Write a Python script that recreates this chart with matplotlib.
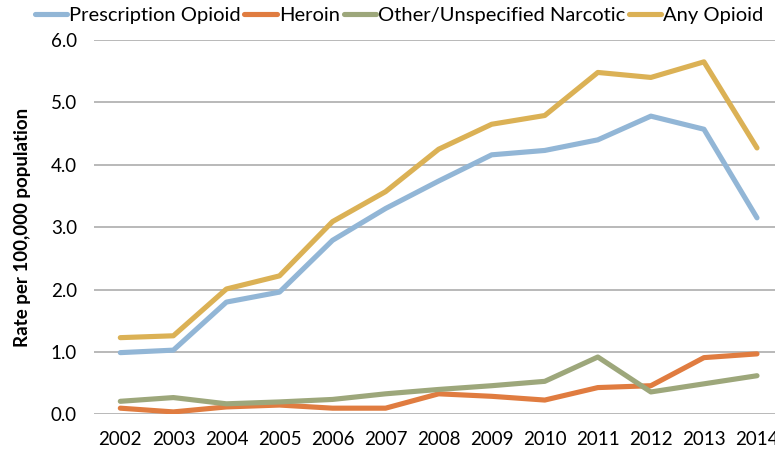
import matplotlib.pyplot as plt
from matplotlib.ticker import FormatStrFormatter

years = [str(y) for y in range(2002, 2015)]

prescription = [0.99, 1.03, 1.80, 1.96, 2.79, 3.30, 3.74, 4.16, 4.23, 4.40, 4.78, 4.57, 3.15]
heroin = [0.10, 0.04, 0.12, 0.15, 0.10, 0.10, 0.33, 0.29, 0.23, 0.43, 0.46, 0.91, 0.97]
other = [0.21, 0.27, 0.17, 0.20, 0.24, 0.33, 0.40, 0.46, 0.53, 0.92, 0.36, 0.49, 0.62]
any_opioid = [1.23, 1.26, 2.01, 2.22, 3.09, 3.57, 4.25, 4.65, 4.79, 5.48, 5.40, 5.65, 4.27]

series = [
    ("Prescription Opioid", prescription, '#92B6D6'),
    ("Heroin", heroin, '#E07C40'),
    ("Other/Unspecified Narcotic", other, '#9DA77B'),
    ("Any Opioid", any_opioid, '#DBB155'),
]

plt.rcParams['font.family'] = ['Lato', 'DejaVu Sans']

fig = plt.figure(figsize=(7.75, 4.54), dpi=100)
ax = fig.add_axes([0.121, 0.0872, 0.890, 0.8247])

x = list(range(len(years)))
for name, vals, color in series:
    ax.plot(x, vals, color=color, linewidth=3.7, label=name, solid_capstyle='round')

ax.set_xlim(-0.5, len(years) - 0.5)
ax.set_ylim(0, 6)
ax.set_yticks([0, 1, 2, 3, 4, 5, 6])
ax.yaxis.set_major_formatter(FormatStrFormatter('%.1f'))
ax.set_xticks(x)
ax.set_xticklabels(years)
ax.tick_params(axis='both', length=0, labelsize=13.5, colors='black')
ax.tick_params(axis='x', pad=12)
ax.tick_params(axis='y', pad=12)
ax.grid(True, axis='y', color='#A6A6A6', linewidth=1.1)
ax.set_axisbelow(True)
for s in ax.spines.values():
    s.set_visible(False)

ax.set_ylabel("Rate per 100,000 population", fontsize=13.5, fontweight='bold', labelpad=14)

fig.legend(loc='upper center', bbox_to_anchor=(0.515, 1.025), ncol=4, frameon=False,
           fontsize=14.5, handlelength=1.6, handletextpad=0.1, columnspacing=0.2)

fig.savefig('out.png', dpi=100)
